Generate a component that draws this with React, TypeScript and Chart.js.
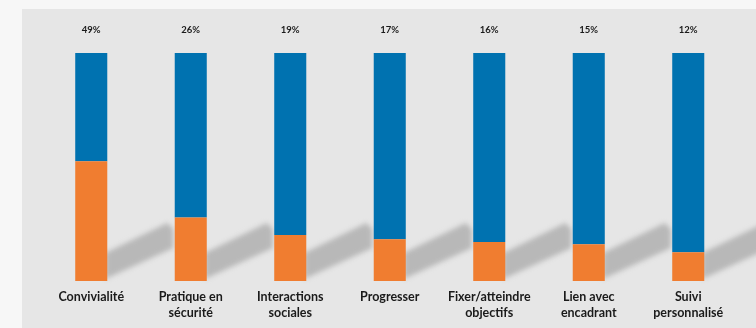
import React, { useEffect, useRef } from "react";
import { Chart, registerables } from "chart.js";

Chart.register(...registerables);

const categories: string[][] = [
  ["Convivialité"],
  ["Pratique en", "sécurité"],
  ["Interactions", "sociales"],
  ["Progresser"],
  ["Fixer/atteindre", "objectifs"],
  ["Lien avec", "encadrant"],
  ["Suivi", "personnalisé"],
];
const percentLabels: string[] = ["49%", "26%", "19%", "17%", "16%", "15%", "12%"];
const orangeValues: number[] = [52.5, 27.9, 20.2, 18.3, 17.1, 16.1, 12.6];
const blueValues: number[] = orangeValues.map((v) => 100 - v);

const ORANGE = "#f07d30";
const BLUE = "#0072b0";
const FONT = "Lato, 'Open Sans', sans-serif";

const backgroundPlugin = {
  id: "bgPanel",
  beforeDraw(chart: any) {
    const ctx = chart.ctx;
    ctx.save();
    ctx.fillStyle = "#f7f7f7";
    ctx.fillRect(0, 0, chart.width, chart.height);
    ctx.fillStyle = "#e6e6e6";
    ctx.fillRect(22, 9, chart.width - 22, chart.height - 9);
    ctx.restore();
  },
};

const shadowPlugin = {
  id: "barShadows",
  beforeDatasetsDraw(chart: any) {
    const ctx = chart.ctx;
    const meta = chart.getDatasetMeta(0);
    ctx.save();
    ctx.filter = "blur(2.5px)";
    ctx.fillStyle = "#b8b8b8";
    meta.data.forEach((bar: any) => {
      const right = bar.x + bar.width / 2;
      const bottom = bar.base;
      ctx.beginPath();
      ctx.moveTo(right - 2, bottom - 28);
      ctx.lineTo(right + 60, bottom - 58);
      ctx.lineTo(right + 66, bottom - 52);
      ctx.lineTo(right + 66, bottom - 33);
      ctx.lineTo(right - 2, bottom - 2);
      ctx.closePath();
      ctx.fill();
    });
    ctx.restore();
  },
};

const labelsPlugin = {
  id: "textLabels",
  afterDatasetsDraw(chart: any) {
    const ctx = chart.ctx;
    const xScale = chart.scales.x;
    const area = chart.chartArea;
    ctx.save();
    ctx.fillStyle = "#1a1a1a";
    ctx.textAlign = "center";
    ctx.textBaseline = "middle";
    ctx.font = `bold 9.5px ${FONT}`;
    percentLabels.forEach((t, i) => {
      ctx.fillText(t, xScale.getPixelForValue(i), area.top - 23);
    });
    ctx.font = `bold 12.5px ${FONT}`;
    categories.forEach((lines, i) => {
      const x = xScale.getPixelForValue(i);
      lines.forEach((line, j) => {
        ctx.fillText(line, x, area.bottom + 16 + j * 16);
      });
    });
    ctx.restore();
  },
};

export default function App() {
  const canvasRef = useRef<HTMLCanvasElement | null>(null);

  useEffect(() => {
    if (!canvasRef.current) return;
    const chart = new Chart(canvasRef.current, {
      type: "bar",
      data: {
        labels: categories.map((c) => c.join(" ")),
        datasets: [
          {
            label: "orange",
            data: orangeValues,
            backgroundColor: ORANGE,
            borderWidth: 0,
            categoryPercentage: 1,
            barPercentage: 0.322,
          },
          {
            label: "blue",
            data: blueValues,
            backgroundColor: BLUE,
            borderWidth: 0,
            categoryPercentage: 1,
            barPercentage: 0.322,
          },
        ],
      },
      options: {
        responsive: false,
        animation: false,
        layout: { padding: { left: 41.5, right: 18, top: 53, bottom: 47 } },
        plugins: {
          legend: { display: false },
          tooltip: { enabled: false },
        },
        scales: {
          x: { stacked: true, display: false },
          y: { stacked: true, display: false, min: 0, max: 100 },
        },
      },
      plugins: [backgroundPlugin, shadowPlugin, labelsPlugin],
    });
    return () => chart.destroy();
  }, []);

  return (
    <div style={{ position: "fixed", left: 0, top: 0, width: 756, height: 328 }}>
      <canvas ref={canvasRef} width={756} height={328} style={{ display: "block" }} />
    </div>
  );
}
